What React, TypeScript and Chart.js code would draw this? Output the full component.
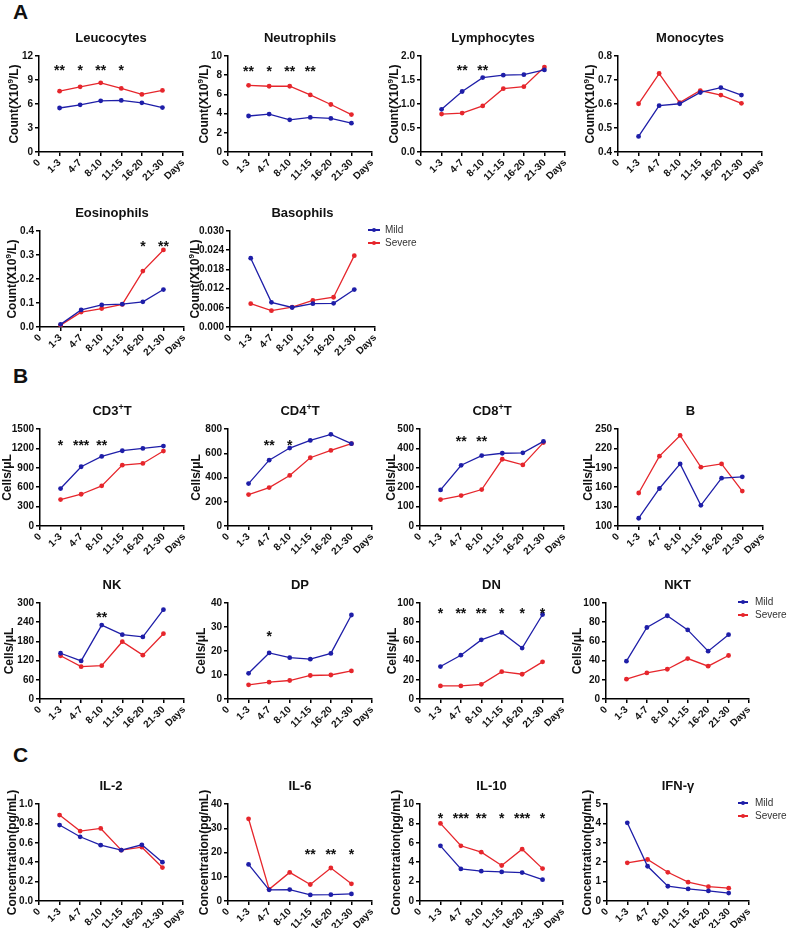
import React, { useEffect, useRef } from 'react';
import { Chart, registerables } from 'chart.js';
Chart.register(...registerables);

const FONT = "Arial, 'Liberation Sans', Helvetica, sans-serif";
const MILD_COLOR = 'rgb(30,30,168)';
const SEVERE_COLOR = 'rgb(230,38,44)';

const xLabels = ['0', '1-3', '4-7', '8-10', '11-15', '16-20', '21-30', 'Days'];

// ---- Panel A ----
const leucoMild = [5.5, 5.9, 6.4, 6.45, 6.15, 5.55];
const leucoSevere = [7.6, 8.15, 8.65, 7.95, 7.2, 7.7];
const leucoTicks = ['0', '3', '6', '9', '12'];
const leucoStars = ['**', '*', '**', '*', '', ''];

const neutroMild = [3.75, 3.95, 3.35, 3.6, 3.5, 3.0];
const neutroSevere = [6.95, 6.85, 6.85, 5.95, 4.95, 3.9];
const neutroTicks = ['0', '2', '4', '6', '8', '10'];
const neutroStars = ['**', '*', '**', '**', '', ''];

const lymphoMild = [0.89, 1.26, 1.55, 1.6, 1.61, 1.71];
const lymphoSevere = [0.79, 0.81, 0.96, 1.32, 1.36, 1.77];
const lymphoTicks = ['0.0', '0.5', '1.0', '1.5', '2.0'];
const lymphoStars = ['', '**', '**', '', '', ''];

const monoMild = [0.465, 0.593, 0.601, 0.648, 0.668, 0.637];
const monoSevere = [0.601, 0.727, 0.606, 0.656, 0.637, 0.603];
const monoTicks = ['0.4', '0.5', '0.6', '0.7', '0.8'];

const eosMild = [0.011, 0.071, 0.092, 0.095, 0.105, 0.156];
const eosSevere = [0.008, 0.062, 0.077, 0.094, 0.233, 0.321];
const eosTicks = ['0.0', '0.1', '0.2', '0.3', '0.4'];
const eosStars = ['', '', '', '', '*', '**'];

const basoMild = [0.0215, 0.0077, 0.0061, 0.0073, 0.0074, 0.0117];
const basoSevere = [0.0073, 0.0051, 0.0062, 0.0083, 0.0093, 0.0223];
const basoTicks = ['0.000', '0.006', '0.012', '0.018', '0.024', '0.030'];

// ---- Panel B ----
const cd3Mild = [579, 916, 1076, 1164, 1200, 1236];
const cd3Severe = [409, 491, 621, 941, 967, 1159];
const cd3Ticks = ['0', '300', '600', '900', '1200', '1500'];
const cd3Stars = ['*', '***', '**', '', '', ''];

const cd4Mild = [350, 543, 643, 706, 756, 679];
const cd4Severe = [259, 317, 417, 563, 623, 679];
const cd4Ticks = ['0', '200', '400', '600', '800'];
const cd4Stars = ['', '**', '*', '', '', ''];

const cd8Mild = [186, 313, 363, 375, 377, 436];
const cd8Severe = [136, 157, 188, 344, 315, 430];
const cd8Ticks = ['0', '100', '200', '300', '400', '500'];
const cd8Stars = ['', '**', '**', '', '', ''];

const bMild = [112, 158, 196, 132, 174, 176];
const bSevere = [151, 208, 240, 191, 196, 154];
const bTicks = ['100', '130', '160', '190', '220', '250'];

const nkMild = [143, 119, 231, 201, 194, 279];
const nkSevere = [135, 101, 104, 179, 137, 204];
const nkTicks = ['0', '60', '120', '180', '240', '300'];
const nkStars = ['', '', '**', '', '', ''];

const dpMild = [10.7, 19.2, 17.2, 16.6, 19.0, 35.0];
const dpSevere = [5.9, 7.0, 7.7, 9.8, 10.0, 11.7];
const dpTicks = ['0', '10', '20', '30', '40'];
const dpStars = ['', '*', '', '', '', ''];

const dnMild = [33.8, 45.6, 61.6, 69.3, 53, 88];
const dnSevere = [13.6, 13.6, 15.3, 28.5, 25.8, 38.7];
const dnTicks = ['0', '20', '40', '60', '80', '100'];
const dnStars = ['*', '**', '**', '*', '*', '*'];

const nktMild = [39.4, 74.5, 86.7, 72, 49.8, 67];
const nktSevere = [20.6, 27.2, 31, 42.1, 34.2, 45.3];
const nktTicks = ['0', '20', '40', '60', '80', '100'];

// ---- Panel C ----
const il2Mild = [0.783, 0.662, 0.576, 0.524, 0.579, 0.4];
const il2Severe = [0.886, 0.721, 0.748, 0.524, 0.555, 0.345];
const il2Ticks = ['0.0', '0.2', '0.4', '0.6', '0.8', '1.0'];

const il6Mild = [15.1, 4.6, 4.7, 2.5, 2.6, 2.9];
const il6Severe = [33.9, 4.8, 11.8, 6.8, 13.6, 7.1];
const il6Ticks = ['0', '10', '20', '30', '40'];
const il6Stars = ['', '', '', '**', '**', '*'];

const il10Mild = [5.69, 3.31, 3.07, 3.0, 2.93, 2.2];
const il10Severe = [8.0, 5.69, 5.03, 3.66, 5.34, 3.34];
const il10Ticks = ['0', '2', '4', '6', '8', '10'];
const il10Stars = ['*', '***', '**', '*', '***', '*'];

const ifnMild = [4.03, 1.79, 0.76, 0.62, 0.52, 0.41];
const ifnSevere = [1.97, 2.14, 1.48, 0.97, 0.74, 0.66];
const ifnTicks = ['0', '1', '2', '3', '4', '5'];

const COUNT = 'Count(X10^9/L)';
const CELLS = 'Cells/μL';
const CONC = 'Concentration(pg/mL)';

type Panel = {
  title: string;
  yTitle: string;
  mild: number[];
  severe: number[];
  ticks: string[];
  stars?: string[];
  starLevel?: number;
  axisX: number;
  plotTop: number;
  plotW: number;
  plotH: number;
  yTitleOff: number;
};

const panels: Panel[] = [
  { title: 'Leucocytes', yTitle: COUNT, mild: leucoMild, severe: leucoSevere, ticks: leucoTicks, stars: leucoStars, starLevel: 10.6, axisX: 39, plotTop: 56, plotW: 144, plotH: 96, yTitleOff: 25 },
  { title: 'Neutrophils', yTitle: COUNT, mild: neutroMild, severe: neutroSevere, ticks: neutroTicks, stars: neutroStars, starLevel: 8.8, axisX: 228, plotTop: 56, plotW: 144, plotH: 96, yTitleOff: 24 },
  { title: 'Lymphocytes', yTitle: COUNT, mild: lymphoMild, severe: lymphoSevere, ticks: lymphoTicks, stars: lymphoStars, starLevel: 1.77, axisX: 421, plotTop: 56, plotW: 144, plotH: 96, yTitleOff: 27 },
  { title: 'Monocytes', yTitle: COUNT, mild: monoMild, severe: monoSevere, ticks: monoTicks, axisX: 618, plotTop: 56, plotW: 144, plotH: 96, yTitleOff: 28 },
  { title: 'Eosinophils', yTitle: COUNT, mild: eosMild, severe: eosSevere, ticks: eosTicks, stars: eosStars, starLevel: 0.351, axisX: 40, plotTop: 231, plotW: 144, plotH: 96, yTitleOff: 28 },
  { title: 'Basophils', yTitle: COUNT, mild: basoMild, severe: basoSevere, ticks: basoTicks, axisX: 230, plotTop: 231, plotW: 145, plotH: 96, yTitleOff: 35 },
  { title: 'CD3^+T', yTitle: CELLS, mild: cd3Mild, severe: cd3Severe, ticks: cd3Ticks, stars: cd3Stars, starLevel: 1303, axisX: 40, plotTop: 429, plotW: 144, plotH: 97, yTitleOff: 33 },
  { title: 'CD4^+T', yTitle: CELLS, mild: cd4Mild, severe: cd4Severe, ticks: cd4Ticks, stars: cd4Stars, starLevel: 695, axisX: 228, plotTop: 429, plotW: 144, plotH: 97, yTitleOff: 32 },
  { title: 'CD8^+T', yTitle: CELLS, mild: cd8Mild, severe: cd8Severe, ticks: cd8Ticks, stars: cd8Stars, starLevel: 453, axisX: 420, plotTop: 429, plotW: 144, plotH: 97, yTitleOff: 29 },
  { title: 'B', yTitle: CELLS, mild: bMild, severe: bSevere, ticks: bTicks, axisX: 618, plotTop: 429, plotW: 145, plotH: 97, yTitleOff: 30 },
  { title: 'NK', yTitle: CELLS, mild: nkMild, severe: nkSevere, ticks: nkTicks, stars: nkStars, starLevel: 266, axisX: 40, plotTop: 603, plotW: 144, plotH: 96, yTitleOff: 31 },
  { title: 'DP', yTitle: CELLS, mild: dpMild, severe: dpSevere, ticks: dpTicks, stars: dpStars, starLevel: 27.7, axisX: 228, plotTop: 603, plotW: 144, plotH: 96, yTitleOff: 27 },
  { title: 'DN', yTitle: CELLS, mild: dnMild, severe: dnSevere, ticks: dnTicks, stars: dnStars, starLevel: 92.3, axisX: 420, plotTop: 603, plotW: 143, plotH: 96, yTitleOff: 28 },
  { title: 'NKT', yTitle: CELLS, mild: nktMild, severe: nktSevere, ticks: nktTicks, axisX: 606, plotTop: 603, plotW: 143, plotH: 96, yTitleOff: 29 },
  { title: 'IL-2', yTitle: CONC, mild: il2Mild, severe: il2Severe, ticks: il2Ticks, axisX: 39, plotTop: 804, plotW: 144, plotH: 97, yTitleOff: 27 },
  { title: 'IL-6', yTitle: CONC, mild: il6Mild, severe: il6Severe, ticks: il6Ticks, stars: il6Stars, starLevel: 20.7, axisX: 228, plotTop: 804, plotW: 144, plotH: 97, yTitleOff: 24 },
  { title: 'IL-10', yTitle: CONC, mild: il10Mild, severe: il10Severe, ticks: il10Ticks, stars: il10Stars, starLevel: 8.86, axisX: 420, plotTop: 804, plotW: 143, plotH: 97, yTitleOff: 24 },
  { title: 'IFN-γ', yTitle: CONC, mild: ifnMild, severe: ifnSevere, ticks: ifnTicks, axisX: 607, plotTop: 804, plotW: 142, plotH: 97, yTitleOff: 20 },
];

const YW = 50;
const RP = 25;
const TP = 45;
const XH = 48;

function richParts(text: string) {
  const parts: { t: string; sup: boolean }[] = [];
  let i = 0;
  while (i < text.length) {
    if (text[i] === '^') {
      parts.push({ t: text[i + 1], sup: true });
      i += 2;
    } else {
      let j = i;
      while (j < text.length && text[j] !== '^') j++;
      parts.push({ t: text.slice(i, j), sup: false });
      i = j;
    }
  }
  return parts;
}

function drawRich(ctx: CanvasRenderingContext2D, text: string, cx: number, cy: number, size: number) {
  const parts = richParts(text);
  const supSize = Math.round(size * 0.68);
  let total = 0;
  const widths = parts.map((pt) => {
    ctx.font = `bold ${pt.sup ? supSize : size}px ${FONT}`;
    const w = ctx.measureText(pt.t).width;
    total += w;
    return w;
  });
  let x = cx - total / 2;
  ctx.textAlign = 'left';
  ctx.textBaseline = 'alphabetic';
  const base = cy + size * 0.36;
  parts.forEach((pt, k) => {
    ctx.font = `bold ${pt.sup ? supSize : size}px ${FONT}`;
    ctx.fillText(pt.t, x, pt.sup ? base - size * 0.42 : base);
    x += widths[k];
  });
}

function PanelChart({ p }: { p: Panel }) {
  const ref = useRef<HTMLCanvasElement>(null);
  const W = YW + p.plotW + RP;
  const H = TP + p.plotH + XH;
  useEffect(() => {
    if (!ref.current) return;
    const decor = {
      id: 'decor',
      afterDraw(chart: any) {
        const ctx: CanvasRenderingContext2D = chart.ctx;
        const ca = chart.chartArea;
        ctx.save();
        ctx.fillStyle = '#111';
        drawRich(ctx, p.title, (ca.left + ca.right) / 2, ca.top - 18.5, 13);
        ctx.save();
        ctx.translate(ca.left - p.yTitleOff, (ca.top + ca.bottom) / 2);
        ctx.rotate(-Math.PI / 2);
        drawRich(ctx, p.yTitle, 0, 0, 12);
        ctx.restore();
        if (p.stars && p.starLevel !== undefined) {
          const xs = chart.scales.x;
          const ys = chart.scales.y;
          const size = 14;
          ctx.font = `bold ${size}px ${FONT}`;
          ctx.textAlign = 'center';
          ctx.textBaseline = 'alphabetic';
          const y = ys.getPixelForValue(p.starLevel) + size * 0.57;
          p.stars.forEach((s, i) => {
            if (!s) return;
            ctx.fillText(s, xs.getPixelForTick(i + 1), y);
          });
        }
        ctx.restore();
      },
    };
    const tickFont = { family: FONT, size: 10, weight: 'bold' as const };
    const chart = new Chart(ref.current, {
      type: 'line',
      data: {
        labels: xLabels,
        datasets: [
          {
            label: 'Mild',
            data: [null, ...p.mild, null],
            borderColor: MILD_COLOR,
            backgroundColor: MILD_COLOR,
            pointBackgroundColor: MILD_COLOR,
            pointBorderColor: MILD_COLOR,
            pointRadius: 2.4,
            pointBorderWidth: 0,
            borderWidth: 1.3,
            tension: 0,
          },
          {
            label: 'Severe',
            data: [null, ...p.severe, null],
            borderColor: SEVERE_COLOR,
            backgroundColor: SEVERE_COLOR,
            pointBackgroundColor: SEVERE_COLOR,
            pointBorderColor: SEVERE_COLOR,
            pointRadius: 2.4,
            pointBorderWidth: 0,
            borderWidth: 1.3,
            tension: 0,
          },
        ],
      },
      options: {
        responsive: false,
        animation: false,
        events: [],
        layout: { padding: { top: TP, right: RP, left: 0, bottom: 0 } },
        plugins: {
          legend: { display: false },
          tooltip: { enabled: false },
          title: { display: false },
        },
        scales: {
          x: {
            type: 'category',
            offset: false,
            grid: { display: true, drawOnChartArea: false, drawTicks: true, tickLength: 4, color: '#000', lineWidth: 1.5, offset: false },
            border: { display: true, color: '#000', width: 1.5 },
            ticks: { autoSkip: false, maxRotation: 45, minRotation: 45, font: tickFont, color: '#111', padding: 1 },
            afterFit: (s: any) => {
              s.height = XH;
            },
          },
          y: {
            type: 'linear',
            min: Number(p.ticks[0]),
            max: Number(p.ticks[p.ticks.length - 1]),
            afterBuildTicks: (s: any) => {
              s.ticks = p.ticks.map((t) => ({ value: Number(t) }));
            },
            ticks: {
              font: tickFont,
              color: '#111',
              padding: 2,
              callback: (_v: any, i: number) => p.ticks[i],
            },
            grid: { display: true, drawOnChartArea: false, drawTicks: true, tickLength: 4, color: '#000', lineWidth: 1.5 },
            border: { display: true, color: '#000', width: 1.5 },
            afterFit: (s: any) => {
              s.width = YW;
            },
          },
        },
      } as any,
      plugins: [decor],
    });
    return () => chart.destroy();
  }, []);
  return (
    <canvas
      ref={ref}
      width={W}
      height={H}
      style={{ position: 'absolute', left: p.axisX - YW, top: p.plotTop - TP, width: W, height: H }}
    />
  );
}

function Legend({ x, y, lineW, textX }: { x: number; y: number; lineW: number; textX: number }) {
  const items = [
    { label: 'Mild', color: MILD_COLOR, dy: 0 },
    { label: 'Severe', color: SEVERE_COLOR, dy: 13 },
  ];
  return (
    <>
      {items.map((it) => (
        <React.Fragment key={it.label}>
          <div style={{ position: 'absolute', left: x, top: y + it.dy - 0.65, width: lineW, height: 1.3, background: it.color }} />
          <div
            style={{
              position: 'absolute',
              left: x + lineW / 2 - 2.4,
              top: y + it.dy - 2.4,
              width: 4.8,
              height: 4.8,
              borderRadius: '50%',
              background: it.color,
            }}
          />
          <div
            style={{
              position: 'absolute',
              left: textX,
              top: y + it.dy - 7,
              fontFamily: FONT,
              fontSize: 10,
              lineHeight: '14px',
              color: '#333',
              whiteSpace: 'nowrap',
            }}
          >
            {it.label}
          </div>
        </React.Fragment>
      ))}
    </>
  );
}

const letterStyle: React.CSSProperties = {
  position: 'absolute',
  left: 13,
  fontFamily: FONT,
  fontWeight: 'bold',
  fontSize: 21,
  lineHeight: '21px',
  color: '#111',
};

export default function App() {
  return (
    <div
      style={{
        position: 'absolute',
        left: 0,
        top: 0,
        width: 787,
        height: 928,
        background: '#fff',
        overflow: 'hidden',
      }}
    >
      <div style={{ ...letterStyle, top: 1 }}>A</div>
      <div style={{ ...letterStyle, top: 365 }}>B</div>
      <div style={{ ...letterStyle, top: 744 }}>C</div>
      {panels.map((p) => (
        <PanelChart key={p.title} p={p} />
      ))}
      <Legend x={368} y={230} lineW={12} textX={385} />
      <Legend x={738} y={602} lineW={10} textX={755} />
      <Legend x={738} y={803} lineW={10} textX={755} />
    </div>
  );
}
